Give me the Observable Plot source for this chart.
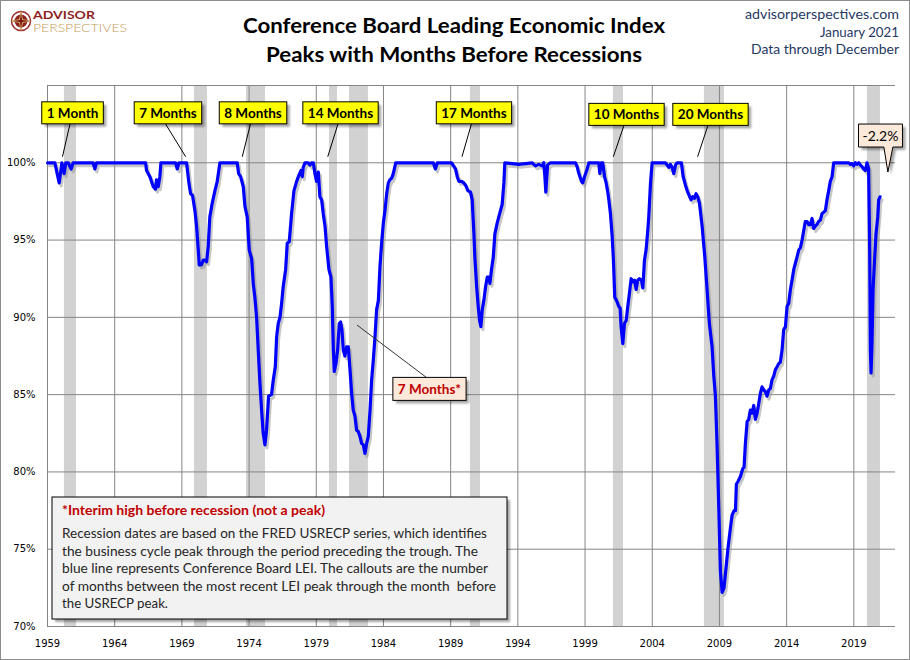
<!DOCTYPE html>
<html><head><meta charset="utf-8">
<script src="https://cdn.jsdelivr.net/npm/d3@7"></script>
<script src="https://cdn.jsdelivr.net/npm/@observablehq/plot@0.6"></script>
<style>
html,body{margin:0;padding:0;background:#fff;overflow:hidden}
#chart{position:relative;width:910px;height:660px}
</style></head><body><div id="chart"></div>
<script>
// ---- data (decimal years, LEI as % of previous peak) ----
const leiDate = [
1959.00,1959.55,1959.72,1959.87,1960.07,1960.24,1960.36,1960.54,1960.76,1960.91,
1962.40,1962.52,1962.65,1966.30,1966.37,1966.62,1966.87,1967.04,1967.11,1967.24,
1967.36,1967.44,1968.53,1968.65,1968.78,1969.35,1969.52,1969.65,1969.79,1969.97,
1970.09,1970.22,1970.29,1970.46,1970.59,1970.71,1970.84,1970.96,1971.08,1971.26,
1971.46,1971.63,1971.83,1973.12,1973.22,1973.37,1973.57,1973.69,1973.86,1974.01,
1974.19,1974.31,1974.43,1974.56,1974.68,1974.81,1974.93,1975.05,1975.18,1975.30,
1975.45,1975.67,1975.80,1975.95,1976.05,1976.17,1976.30,1976.42,1976.54,1976.72,
1976.84,1976.99,1977.16,1977.34,1977.54,1977.71,1977.86,1977.96,1978.03,1978.16,
1978.28,1978.40,1978.53,1978.65,1978.78,1978.90,1979.02,1979.15,1979.27,1979.40,
1979.52,1979.65,1979.77,1979.94,1980.09,1980.19,1980.27,1980.34,1980.46,1980.59,
1980.71,1980.81,1980.91,1981.01,1981.13,1981.26,1981.38,1981.51,1981.63,1981.75,
1981.88,1982.00,1982.13,1982.25,1982.37,1982.50,1982.62,1982.75,1982.87,1983.00,
1983.12,1983.24,1983.37,1983.49,1983.62,1983.74,1983.86,1983.99,1984.11,1984.24,
1984.36,1984.48,1984.61,1984.73,1984.91,1987.71,1987.86,1988.01,1989.07,1989.36,
1989.49,1989.61,1989.81,1989.98,1990.11,1990.28,1990.48,1990.60,1990.73,1990.80,
1990.93,1991.05,1991.15,1991.25,1991.35,1991.47,1991.60,1991.72,1991.84,1991.92,
1992.04,1992.17,1992.29,1992.46,1992.64,1992.83,1992.96,1993.03,1994.07,1995.07,
1995.31,1995.56,1995.81,1995.93,1996.01,1996.08,1996.21,1996.43,1998.29,1998.41,
1998.54,1998.73,1998.83,1998.96,1999.16,1999.28,2000.02,2000.10,2000.20,2000.32,
2000.45,2000.57,2000.69,2000.77,2000.89,2001.02,2001.11,2001.21,2001.34,2001.51,
2001.61,2001.68,2001.81,2001.93,2002.06,2002.18,2002.30,2002.43,2002.55,2002.68,
2002.80,2002.92,2003.05,2003.20,2003.30,2003.42,2003.54,2003.67,2003.74,2003.87,
2003.99,2004.98,2005.23,2005.35,2005.48,2005.60,2005.73,2005.85,2006.17,2006.30,
2006.47,2006.64,2006.79,2006.89,2007.01,2007.14,2007.26,2007.39,2007.51,2007.71,
2007.91,2008.08,2008.25,2008.45,2008.58,2008.70,2008.82,2008.95,2009.07,2009.20,
2009.34,2009.49,2009.64,2009.82,2009.94,2010.09,2010.19,2010.26,2010.39,2010.56,
2010.73,2010.83,2010.93,2011.06,2011.18,2011.30,2011.43,2011.55,2011.67,2011.80,
2011.92,2012.05,2012.17,2012.30,2012.42,2012.54,2012.67,2012.79,2012.91,2013.04,
2013.16,2013.29,2013.41,2013.53,2013.66,2013.78,2013.91,2014.03,2014.15,2014.28,
2014.40,2014.53,2014.65,2014.77,2014.90,2015.02,2015.15,2015.27,2015.39,2015.52,
2015.64,2015.77,2015.89,2016.01,2016.14,2016.26,2016.38,2016.51,2016.63,2016.76,
2016.88,2017.00,2017.13,2017.25,2017.38,2017.50,2018.62,2018.74,2018.86,2018.99,
2019.11,2019.24,2019.36,2019.49,2019.61,2019.73,2019.86,2019.98,2020.10,2020.18,
2020.23,2020.28,2020.35,2020.43,2020.53,2020.65,2020.78,2020.85,2020.95
];
const leiValue = [
100,100,99.3,98.7,100,99.3,100,100,99.6,100,
100,99.6,100,100,99.5,99.1,98.45,98.3,98.9,98.45,
99.1,100,100,99.6,100,100,98.7,98.0,97.9,96.9,
95.9,94.35,93.4,93.4,93.7,93.7,93.6,94.6,96.5,97.4,
98.2,98.8,100,100,99.3,99.1,98.45,97.2,96.5,94.35,
93.8,92.2,91.3,90.0,87.9,85.7,84.0,82.5,81.75,82.7,
84.9,85.0,85.95,86.8,88.75,89.6,90.0,90.9,92.0,93.1,
94.8,94.9,96.7,98.2,98.8,99.2,99.5,99.1,99.7,100,
100,100,99.85,100,100,99.3,98.8,99.4,97.8,97.6,
96.7,95.9,94.6,93.1,92.6,90.7,87.9,86.5,87.0,87.9,
89.6,89.7,89.2,87.9,87.5,88.1,88.1,86.6,85.1,84.0,
83.6,82.7,82.6,82.3,81.85,81.75,81.2,81.85,82.3,84.0,
85.95,87.2,88.75,90.5,91.1,93.3,94.8,96.1,96.9,98.0,
98.7,98.9,99.0,99.3,100,100,99.6,100,100,99.6,
99.1,98.8,98.8,98.7,98.55,98.2,98.1,97.6,95.4,93.9,
92.0,90.7,89.8,89.4,90.5,91.1,92.0,92.6,92.6,92.2,
93.1,93.9,95.4,96.1,96.7,97.3,98.7,100,99.9,100,
99.8,99.9,99.8,100,99.1,98.1,99.85,100,100,99.75,
99.3,98.8,98.7,99.1,99.6,100,100,99.3,100,100,
99.1,98.7,98.1,97.6,96.7,95.2,93.7,91.3,91.1,90.7,
90.6,89.4,88.3,89.6,89.8,90.7,91.55,92.5,92.3,92.4,
91.8,92.4,92.5,92.4,91.9,93.7,94.35,95.65,96.5,98.7,
100,100,99.7,99.9,99.7,99.3,99.85,100,100,99.1,
98.55,98.1,97.8,97.6,97.8,97.7,98.0,97.8,97.4,95.9,
93.9,91.8,89.6,88.1,86.2,84.9,81.8,77.7,73.6,72.2,
72.5,73.8,75.1,76.4,77.2,77.5,77.5,79.2,79.4,79.7,
80.2,80.3,81.85,83.25,83.4,84.0,83.8,84.3,83.4,83.8,
84.4,85.1,85.5,85.3,85.2,84.9,85.3,85.4,85.95,86.2,
86.6,86.8,87.0,87.1,87.9,89.2,89.4,90.7,90.9,91.8,
92.4,93.1,93.5,93.9,94.35,94.5,95.0,95.6,96.2,96.2,
96.0,96.0,96.4,95.75,95.9,96.0,96.2,96.3,96.7,96.8,
96.9,97.6,98.2,98.8,99.1,100,100,99.9,99.95,99.8,
100,99.9,100,99.85,99.75,99.6,99.5,100,99.6,94.35,
87.9,86.4,88.3,91.8,93.5,95.4,96.5,97.6,97.8
];
// recession periods (USRECP)
const recStart = [1960.26,1969.94,1973.81,1979.98,1981.47,1990.47,2001.11,2007.88,2020.01];
const recEnd   = [1961.16,1970.90,1975.22,1980.58,1982.88,1991.22,2001.86,2009.37,2020.98];
// axes
const xTicks = [1959,1964,1969,1974,1979,1984,1989,1994,1999,2004,2009,2014,2019];
const yTicks = [70,75,80,85,90,95,100];
const yGrid  = [70,75,80,85,90,95,100,105];
// callouts
const calloutLabel    = ["1 Month","7 Months","8 Months","14 Months","17 Months","10 Months","20 Months"];
const calloutBoxYear  = [1960.90,1968.00,1974.33,1980.84,1990.77,2002.12,2008.37];
const calloutBoxValue = [103.2,103.2,103.2,103.2,103.2,103.1,103.1];
const calloutTipYear  = [1960.15,1969.32,1973.53,1979.89,1989.88,2001.14,2007.41];
const calloutTipValue = [100.36,100.36,100.36,100.36,100.36,100.36,100.36];
const interimLabel = "7 Months*";
const interimBox = [1987.46, 85.34];
const interimTip = [1982.07, 89.47];
const latestBox = [2021.02, 101.73];
const latestTip = [2021.57, 99.37];
// texts
const titleLines = ["Conference Board Leading Economic Index","Peaks with Months Before Recessions"];
const sourceLines = ["advisorperspectives.com","January 2021","Data through December"];
const noteTitle = "*Interim high before recession (not a peak)";
const noteLines = [
 "Recession dates are based on the FRED USRECP series, which identifies",
 "the business cycle peak through the period preceding the trough. The",
 "blue line represents Conference Board LEI. The callouts are the number",
 "of months between the most recent LEI peak through the month  before",
 "the USRECP peak."
];

const lei = leiDate.map((d,i)=>({date:d, value:leiValue[i]}));
const rec = recStart.map((s,i)=>({start:s, end:recEnd[i]}));

const chart = Plot.plot({
  width:910, height:660,
  marginLeft:47, marginRight:15, marginTop:85, marginBottom:34,
  style:{fontFamily:"'DejaVu Sans', sans-serif", fontSize:"10px", color:"#000", background:"#fff", overflow:"visible"},
  x:{type:"linear", domain:[1959,2022.1]},
  y:{type:"linear", domain:[70,105]},
  marks:[
    Plot.rect(rec,{x1:"start", x2:"end", fill:"#d2d2d2"}),
    Plot.gridX(xTicks,{stroke:"#858585", strokeOpacity:1}),
    Plot.gridY(yGrid,{stroke:"#858585", strokeOpacity:1}),
    Plot.axisX(xTicks,{tickFormat:"d", tickSize:0, tickPadding:13, label:null, fontSize:10}),
    Plot.axisY(yTicks,{tickFormat:d=>d+"%", tickSize:0, tickPadding:12, label:null, fontSize:10}),
    Plot.line(lei,{x:"date", y:"value", stroke:"#8f8f8f", strokeOpacity:0.5, strokeWidth:3, dx:2, dy:3, strokeLinejoin:"round"}),
    Plot.line(lei,{x:"date", y:"value", stroke:"#0000ff", strokeWidth:3.2, strokeLinejoin:"round"})
  ]
});
document.getElementById("chart").appendChild(chart);

const sx = chart.scale("x"), sy = chart.scale("y");
const X = d3.scaleLinear(sx.domain, sx.range), Y = d3.scaleLinear(sy.domain, sy.range);
const svg = d3.select(chart);
const UI = "Lato, 'Open Sans', sans-serif";

const defs = svg.append("defs");
defs.append("filter").attr("id","blur").attr("x","-20%").attr("y","-20%").attr("width","140%").attr("height","140%")
  .append("feGaussianBlur").attr("stdDeviation",1.3);

// outer border
svg.append("rect").attr("x",0.5).attr("y",0.5).attr("width",909).attr("height",659)
  .attr("fill","none").attr("stroke","#8c8c8c");

const g = svg.append("g").attr("text-anchor","start");
function fit(sel, w){ return sel.attr("textLength", w).attr("lengthAdjust","spacingAndGlyphs"); }

// title
const titleW = [422, 376], titleY = [33, 62];
titleLines.forEach((t,i)=>{
  fit(g.append("text").attr("x",454).attr("y",titleY[i]).attr("text-anchor","middle")
   .attr("font-family",UI).attr("font-weight",700).attr("font-size",21).attr("fill","#000").text(t), titleW[i]);
});
// source lines
const srcW = [154, 79, 148], srcY = [19, 37, 54];
sourceLines.forEach((t,i)=>{
  fit(g.append("text").attr("x",899).attr("y",srcY[i]).attr("text-anchor","end")
   .attr("font-family",UI).attr("font-size",13).attr("fill","#1f3864").text(t), srcW[i]);
});
// logo
const lg = g.append("g");
lg.append("circle").attr("cx",21).attr("cy",21).attr("r",9.5).attr("fill","#fff").attr("stroke","#9a2a2a").attr("stroke-width",1.5);
lg.append("circle").attr("cx",21).attr("cy",21).attr("r",6.5).attr("fill","#8e1f1f");
lg.append("path").attr("d","M21,10 L23,19 L32,21 L23,23 L21,32 L19,23 L10,21 L19,19 Z").attr("fill","#c9a15a");
lg.append("path").attr("d","M21,13 L22,20 L29,21 L22,22 L21,29 L20,22 L13,21 L20,20 Z").attr("fill","#7a1414");
fit(lg.append("text").attr("x",33).attr("y",19.5).attr("text-anchor","start").attr("font-family",UI).attr("font-size",10.5)
  .attr("font-weight",700).attr("fill","#8e1f1f").style("font-size","10.5px").text("ADVISOR"), 62)
  .attr("transform","translate(33,19.5) scale(1,1.15) translate(-33,-19.5)");
fit(lg.append("text").attr("x",33).attr("y",32).attr("text-anchor","start").attr("font-family",UI).attr("font-size",10.5)
  .attr("font-weight",300).attr("fill","#c29a55").text("PERSPECTIVES"), 94)
  .attr("transform","translate(33,32) scale(1,1.15) translate(-33,-32)");

// generic box
function box(parent, cx, cy, label, opt){
  const gg = parent.append("g");
  const sh = gg.append("rect"), r = gg.append("rect");
  const t = gg.append("text").attr("x",cx).attr("y",cy).attr("dy","0.36em").attr("text-anchor","middle")
    .attr("font-family",UI).attr("font-weight",opt.weight||700).attr("font-size",opt.size||13.5)
    .attr("fill",opt.color||"#000").text(label);
  const w = t.node().getComputedTextLength() + (opt.pad||10), h = opt.h||22;
  sh.attr("x",cx-w/2+3).attr("y",cy-h/2+3).attr("width",w).attr("height",h).attr("fill","#000").attr("opacity",0.35).attr("filter","url(#blur)");
  r.attr("x",cx-w/2).attr("y",cy-h/2).attr("width",w).attr("height",h).attr("fill",opt.fill).attr("stroke","#000").attr("stroke-width",1);
  return {w,h};
}

// yellow callouts
calloutLabel.forEach((lab,i)=>{
  const bx = X(calloutBoxYear[i]), by = Y(calloutBoxValue[i]);
  g.append("line").attr("x1",bx-2.5).attr("y1",by+11).attr("x2",X(calloutTipYear[i])).attr("y2",Y(calloutTipValue[i]))
    .attr("stroke","#000").attr("stroke-width",1);
  box(g, bx, by, lab, {fill:"#ffff00"});
});

// interim callout
{
  const bx = X(interimBox[0]), by = Y(interimBox[1]);
  g.append("line").attr("x1",bx-2.5).attr("y1",by-11).attr("x2",X(interimTip[0])).attr("y2",Y(interimTip[1]))
    .attr("stroke","#333").attr("stroke-width",1);
  box(g, bx, by, interimLabel, {fill:"#fde9d9", color:"#c00000", h:23});
}

// latest change callout with tail
{
  const last = leiValue[leiValue.length-1];
  const label = (last-100).toFixed(1)+"%";
  const bx = X(latestBox[0]), by = Y(latestBox[1]);
  const gg = g.append("g");
  const t = gg.append("text").attr("x",bx).attr("y",by).attr("dy","0.36em").attr("text-anchor","middle")
    .attr("font-family",UI).attr("font-size",14).attr("fill","#000").text(label);
  const w = t.node().getComputedTextLength()+8, h = 23;
  const x0 = bx-w/2, x1 = bx+w/2, y0 = by-h/2, y1 = by+h/2;
  const tx = X(latestTip[0]), ty = Y(latestTip[1]);
  const p = `M${x0},${y0}H${x1}V${y1}H${tx+5}L${tx},${ty}L${tx-4},${y1}H${x0}Z`;
  gg.insert("path","text").attr("d",p).attr("fill","#000").attr("opacity",0.35).attr("transform","translate(3,3)").attr("filter","url(#blur)");
  gg.insert("path","text").attr("d",p).attr("fill","#fde9d9").attr("stroke","#000").attr("stroke-width",1);
}

// note box
{
  const nx = 52, ny = 497, nw = 455, nh = 122;
  g.append("rect").attr("x",nx+3).attr("y",ny+3).attr("width",nw).attr("height",nh).attr("fill","#000").attr("opacity",0.35).attr("filter","url(#blur)");
  g.append("rect").attr("x",nx).attr("y",ny).attr("width",nw).attr("height",nh).attr("fill","#f2f2f2").attr("stroke","#000");
  fit(g.append("text").attr("x",62).attr("y",515).attr("text-anchor","start").attr("font-family",UI).attr("font-weight",700).attr("font-size",13)
    .attr("fill","#c00000").text(noteTitle), 263);
  const lw = [425,416,426,434,106], ly = [538,556,573,591,608];
  noteLines.forEach((t,i)=>{
    fit(g.append("text").attr("x",62).attr("y",ly[i]).attr("text-anchor","start").attr("font-family",UI).attr("font-size",12.5)
      .attr("fill","#262626").attr("xml:space","preserve").style("white-space","pre").text(t), lw[i]);
  });
}
</script>
</body></html>
